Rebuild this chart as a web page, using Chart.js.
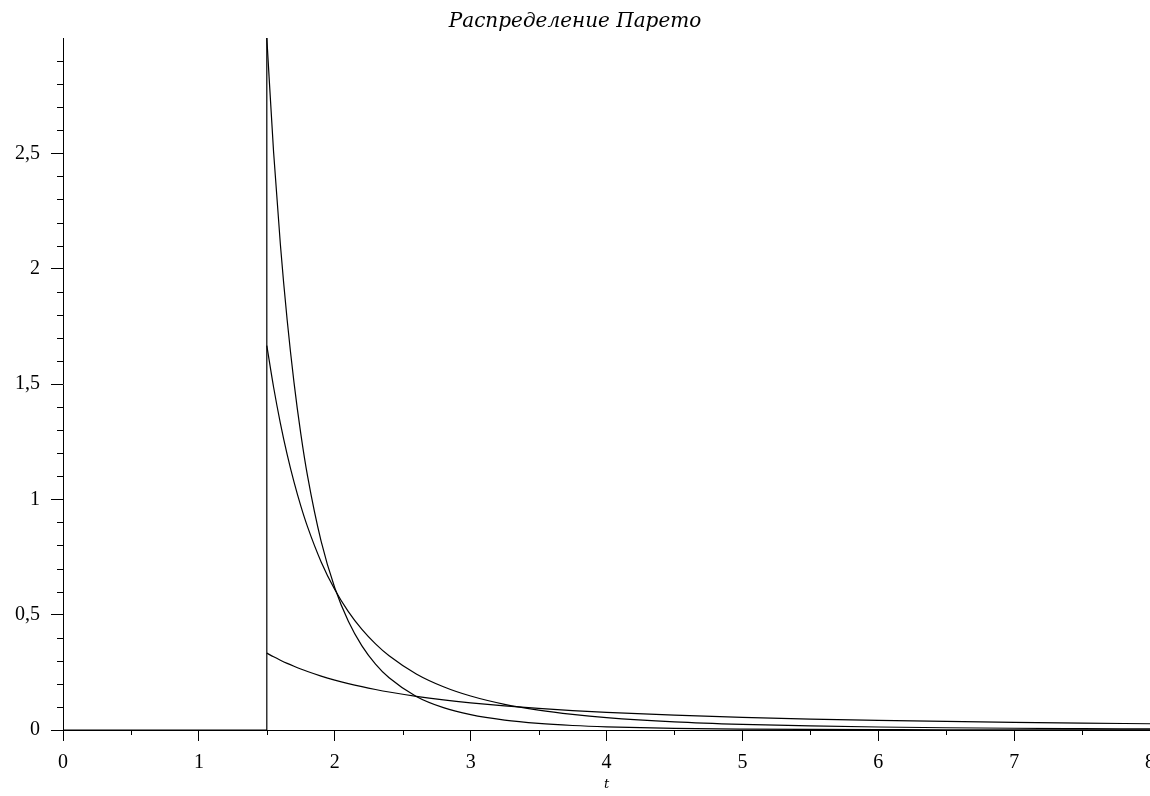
<!DOCTYPE html>
<html>
<head>
<meta charset="utf-8">
<script src="https://cdn.jsdelivr.net/npm/chart.js@4"></script>
<style>
html,body{margin:0;padding:0;background:#fff;}
#wrap{width:1150px;height:796px;position:relative;}
</style>
</head>
<body>
<div id="wrap"><canvas id="c"></canvas></div>
<script>
// Data
const titleText = "Распределение Парето";
const xAxisTitle = "t";
const xTicks = [0,1,2,3,4,5,6,7,8];
const yTicks = [0,0.5,1,1.5,2,2.5];

// support (density is zero left of 1.5, jump at 1.5)
const stepX = [0, 1.5, 1.5];
const stepY = [0, 0, 3.0];

const xs = [1.5,1.55,1.6,1.65,1.7,1.75,1.8,1.9,2.0,2.1,2.2,2.3,2.4,2.6,2.8,3.0,3.25,3.5,3.75,4.0,4.5,5.0,5.5,6.0,6.5,7.0,7.5,8.0];
const seriesA = [0.3333,0.3173,0.3026,0.2889,0.2763,0.2645,0.2536,0.2338,0.2165,0.2012,0.1877,0.1756,0.1647,0.1461,0.1307,0.1179,0.1045,0.0935,0.0843,0.0765,0.0642,0.0548,0.0475,0.0417,0.0370,0.0331,0.0298,0.0271];
const seriesB = [1.6667,1.4860,1.3297,1.1939,1.0755,0.9717,0.8805,0.7287,0.6089,0.5133,0.4362,0.3734,0.3217,0.2431,0.1876,0.1473,0.1113,0.0859,0.0675,0.0538,0.0356,0.0246,0.0177,0.0130,0.0098,0.0076,0.0060,0.0048];
const seriesC = [3.0000,2.5049,2.1035,1.7761,1.5072,1.2850,1.1005,0.8175,0.6165,0.4714,0.3650,0.2858,0.2262,0.1456,0.0969,0.0663,0.0427,0.0284,0.0194,0.0136,0.0071,0.0040,0.0024,0.0015,0.0009,0.0006,0.0004,0.0003];

const pts = (X, Y) => X.map((x, i) => ({x: x, y: Y[i]}));
const isMultiple = (v, s) => Math.abs(v / s - Math.round(v / s)) < 1e-6;

const lineStyle = {borderColor:'#000', borderWidth:1.2, pointRadius:0, fill:false};

const minorTicks = {
  id: 'minorTicks',
  afterDraw(chart) {
    const ctx = chart.ctx;
    const xs_ = chart.scales.x, ys_ = chart.scales.y;
    ctx.save();
    ctx.strokeStyle = '#000';
    ctx.lineWidth = 1;
    ctx.beginPath();
    ys_.ticks.forEach(t => {
      if (!isMultiple(t.value, 0.5) && t.value < 2.99) {
        const y = Math.round(ys_.getPixelForValue(t.value)) + 0.5;
        ctx.moveTo(ys_.right - 6, y); ctx.lineTo(ys_.right, y);
      }
    });
    xs_.ticks.forEach(t => {
      if (!isMultiple(t.value, 1)) {
        const x = Math.round(xs_.getPixelForValue(t.value)) + 0.5;
        ctx.moveTo(x, xs_.top); ctx.lineTo(x, xs_.top + 5);
      }
    });
    ctx.stroke();
    ctx.restore();
  }
};

new Chart(document.getElementById('c'), {
  type: 'line',
  data: {
    datasets: [
      Object.assign({data: pts(stepX, stepY), tension: 0}, lineStyle),
      Object.assign({data: pts(xs, seriesA), cubicInterpolationMode: 'monotone'}, lineStyle),
      Object.assign({data: pts(xs, seriesB), cubicInterpolationMode: 'monotone'}, lineStyle),
      Object.assign({data: pts(xs, seriesC), cubicInterpolationMode: 'monotone'}, lineStyle)
    ]
  },
  options: {
    responsive: true,
    maintainAspectRatio: false,
    animation: false,
    layout: {padding: 0},
    plugins: {
      legend: {display: false},
      tooltip: {enabled: false},
      title: {
        display: true,
        text: titleText,
        color: '#000',
        font: {family: 'DejaVu Serif', style: 'italic', size: 20, weight: 'normal', lineHeight: 1.2},
        padding: {top: 10, bottom: 4}
      }
    },
    scales: {
      x: {
        type: 'linear',
        min: 0, max: 8,
        ticks: {
          stepSize: 0.5, autoSkip: false, maxRotation: 0,
          color: '#000', padding: 10,
          font: {family: 'Liberation Serif', size: 20},
          callback: v => (isMultiple(v, 1) && xTicks.includes(Math.round(v))) ? String(Math.round(v)) : ''
        },
        grid: {
          drawOnChartArea: false, drawTicks: true, tickLength: 11,
          tickColor: c => (c.tick && isMultiple(c.tick.value, 1)) ? '#000' : 'rgba(0,0,0,0)'
        },
        border: {display: true, color: '#000', width: 1},
        title: {
          display: true, text: xAxisTitle, color: '#000',
          font: {family: 'DejaVu Serif', style: 'italic', size: 13},
          padding: {top: 0, bottom: 4}
        },
        afterFit: s => { s.height = 66; s.paddingLeft = 0; s.paddingRight = 0; }
      },
      y: {
        type: 'linear',
        min: 0, max: 3,
        ticks: {
          stepSize: 0.1, autoSkip: false,
          color: '#000', padding: 11,
          font: {family: 'Liberation Serif', size: 20},
          callback: v => {
            if (v > 2.99) return '';
            const k = yTicks.find(t => Math.abs(t - v) < 1e-6);
            return k === undefined ? '' : String(k).replace('.', ',');
          }
        },
        grid: {
          drawOnChartArea: false, drawTicks: true, tickLength: 12,
          tickColor: c => (c.tick && isMultiple(c.tick.value, 0.5) && c.tick.value < 2.99) ? '#000' : 'rgba(0,0,0,0)'
        },
        border: {display: true, color: '#000', width: 1},
        afterFit: s => { s.width = 63; s.paddingTop = 0; s.paddingBottom = 0; }
      }
    }
  },
  plugins: [minorTicks]
});
</script>
</body>
</html>
